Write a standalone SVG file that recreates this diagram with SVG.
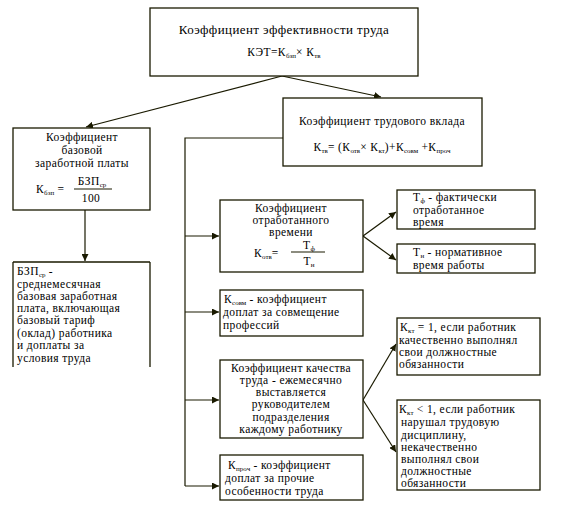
<svg xmlns="http://www.w3.org/2000/svg" width="566" height="518" viewBox="0 0 566 518" font-family="'Liberation Serif', 'Times New Roman', 'DejaVu Serif', serif">
<defs>
<marker id="ah" viewBox="0 0 10 10" refX="10" refY="5" markerWidth="7" markerHeight="7" orient="auto" markerUnits="userSpaceOnUse">
<path d="M0,0 L10,5 L0,10 z" fill="#1a1a00"/>
</marker>
<style>
rect{fill:#fff;stroke:#1a1a00;stroke-width:1.3}
.ln{fill:none;stroke:#1a1a00;stroke-width:1.2}
text{font-family:'Liberation Serif','Times New Roman','DejaVu Serif',serif;font-size:11.5px;letter-spacing:0.4px;fill:#000}
.c{text-anchor:middle}
.big{font-size:13px}
.sub{font-size:7px;letter-spacing:0}
</style>
</defs>
<rect width="566" height="518" fill="#fff" style="stroke:none"/>
<g id="connectors">
<path class="ln" d="M282,76 L86,127" marker-end="url(#ah)"/>
<path class="ln" d="M282,76 L381,97" marker-end="url(#ah)"/>
<path class="ln" d="M85,210 L85,261" marker-end="url(#ah)"/>
<path class="ln" d="M283,138 L185,138 L185,486"/>
<path class="ln" d="M185,236 L219,236" marker-end="url(#ah)"/>
<path class="ln" d="M185,312 L219,312" marker-end="url(#ah)"/>
<path class="ln" d="M185,400 L219,400" marker-end="url(#ah)"/>
<path class="ln" d="M185,486 L219,486" marker-end="url(#ah)"/>
<path class="ln" d="M363,236 L396,212" marker-end="url(#ah)"/>
<path class="ln" d="M363,236 L396,260" marker-end="url(#ah)"/>
<path class="ln" d="M363,400 L396,344" marker-end="url(#ah)"/>
<path class="ln" d="M363,400 L396,452" marker-end="url(#ah)"/>
</g>
<g id="n-ket">
<rect x="150" y="8" width="268" height="68"/>
<text class="c big" x="284" y="34">Коэффициент эффективности труда</text>
<text class="c" x="284" y="56">КЭТ=К<tspan class="sub" baseline-shift="-2">бзп</tspan>× К<tspan class="sub" baseline-shift="-2">тв</tspan></text>
</g>
<g id="n-kbzp">
<rect x="13" y="128" width="137" height="82"/>
<text class="c" x="82" y="141">Коэффициент</text>
<text class="c" x="82" y="154">базовой</text>
<text class="c" x="82" y="167">заработной платы</text>
<text x="36" y="193">К<tspan class="sub" baseline-shift="-2">бзп</tspan> =</text>
<text class="c" x="92" y="185">БЗП<tspan class="sub" baseline-shift="-2">ср</tspan></text>
<path class="ln" d="M74,189 L112,189"/>
<text class="c" x="91" y="202">100</text>
</g>
<g id="n-bzp">
<path class="ln" d="M13,262 L150,262 M13,262 L13,367 M150,262 L150,367" style="stroke-width:1.3"/>
<text x="17" y="275">БЗП<tspan class="sub" baseline-shift="-2">ср</tspan> -</text>
<text x="17" y="288">среднемесячная</text>
<text x="17" y="300">базовая заработная</text>
<text x="17" y="312">плата, включающая</text>
<text x="17" y="324">базовый тариф</text>
<text x="17" y="337">(оклад) работника</text>
<text x="17" y="349">и доплаты за</text>
<text x="17" y="362">условия труда</text>
</g>
<g id="n-ktv">
<rect x="283" y="98" width="199" height="68"/>
<text class="c" x="382" y="125">Коэффициент трудового вклада</text>
<text class="c" x="382" y="151">К<tspan class="sub" baseline-shift="-2">тв</tspan>= (К<tspan class="sub" baseline-shift="-2">отв</tspan>× К<tspan class="sub" baseline-shift="-2">кт</tspan>)+К<tspan class="sub" baseline-shift="-2">совм</tspan> +К<tspan class="sub" baseline-shift="-2">проч</tspan></text>
</g>
<g id="n-kotv">
<rect x="220" y="200" width="143" height="72"/>
<text class="c" x="291" y="212">Коэффициент</text>
<text class="c" x="291" y="224">отработанного</text>
<text class="c" x="291" y="236">времени</text>
<text x="254" y="257">К<tspan class="sub" baseline-shift="-2">отв</tspan>=</text>
<text class="c" x="309" y="249">Т<tspan class="sub" baseline-shift="-2">ф</tspan></text>
<path class="ln" d="M291,252 L325,252"/>
<text class="c" x="309" y="265">Т<tspan class="sub" baseline-shift="-2">н</tspan></text>
</g>
<g id="n-ksovm">
<rect x="220" y="290" width="143" height="46"/>
<text x="224" y="303">К<tspan class="sub" baseline-shift="-2">совм</tspan> - коэффициент</text>
<text x="223" y="316">доплат за совмещение</text>
<text x="223" y="329">профессий</text>
</g>
<g id="n-kkt">
<rect x="220" y="360" width="143" height="78"/>
<text class="c" x="291" y="372">Коэффициент качества</text>
<text class="c" x="291" y="384">труда - ежемесячно</text>
<text class="c" x="291" y="396">выставляется</text>
<text class="c" x="291" y="408">руководителем</text>
<text class="c" x="291" y="421">подразделения</text>
<text class="c" x="291" y="433">каждому работнику</text>
</g>
<g id="n-kproch">
<rect x="220" y="455" width="143" height="45"/>
<text x="228" y="469">К<tspan class="sub" baseline-shift="-2">проч</tspan> - коэффициент</text>
<text x="225" y="482">доплат за прочие</text>
<text x="225" y="495">особенности труда</text>
</g>
<g id="n-tf">
<rect x="397" y="190" width="138" height="39"/>
<text x="413" y="201">Т<tspan class="sub" baseline-shift="-1.5">ф</tspan> - фактически</text>
<text x="413" y="214">отработанное</text>
<text x="413" y="226">время</text>
</g>
<g id="n-tn">
<rect x="397" y="244" width="138" height="29"/>
<text x="413" y="256">Т<tspan class="sub" baseline-shift="-2">н</tspan> - нормативное</text>
<text x="413" y="269">время работы</text>
</g>
<g id="n-kkt1">
<rect x="397" y="318" width="143" height="57"/>
<text x="400" y="331">К<tspan class="sub" baseline-shift="-2">кт</tspan> = 1, если работник</text>
<text x="399" y="344">качественно выполнял</text>
<text x="399" y="356">свои должностные</text>
<text x="399" y="368">обязанности</text>
</g>
<g id="n-kkt2">
<rect x="397" y="400" width="143" height="90"/>
<text x="399" y="413">К<tspan class="sub" baseline-shift="-2">кт</tspan> &lt; 1, если работник</text>
<text x="401" y="426">нарушал трудовую</text>
<text x="401" y="439">дисциплину,</text>
<text x="401" y="451">некачественно</text>
<text x="401" y="463">выполнял свои</text>
<text x="401" y="475">должностные</text>
<text x="401" y="487">обязанности</text>
</g>
</svg>
